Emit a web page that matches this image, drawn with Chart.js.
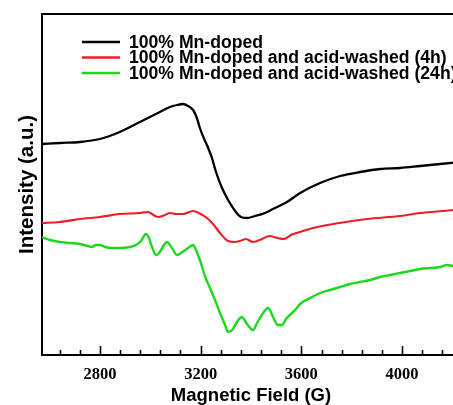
<!DOCTYPE html>
<html>
<head>
<meta charset="utf-8">
<script src="https://cdn.jsdelivr.net/npm/chart.js@4/dist/chart.umd.min.js"></script>
<style>
  html, body { margin: 0; padding: 0; overflow: hidden; background: #fff; }
  #wrap { width: 460px; height: 405px; }
</style>
</head>
<body>
<div id="wrap"><canvas id="epr" width="460" height="405"></canvas></div>
<script>
(function() {
    'use strict';

    // Magnetic field (G) and intensity (a.u.)
    const fieldBlack = [2570, 2641, 2721, 2800, 2879, 2959, 3038, 3078, 3106, 3130, 3150, 3170, 3185, 3197, 3209,
        3225, 3245, 3261, 3285, 3309, 3340, 3360, 3384, 3416, 3456, 3495, 3543, 3595, 3674, 3754, 3833,
        3913, 3992, 4072, 4151, 4231];
    const intBlack = [211, 212, 213, 216, 223, 233, 243, 248, 250, 251, 249, 245, 237, 227, 219,
        210, 197, 183, 167, 155, 143, 138, 137, 139, 142, 147, 153, 162, 172, 179, 183,
        186, 187, 189, 191, 193];

    const fieldRed = [2570, 2641, 2721, 2800, 2879, 2959, 2991, 3019, 3034, 3058, 3078, 3102, 3130, 3170, 3193,
        3225, 3249, 3277, 3309, 3336, 3356, 3380, 3408, 3444, 3472, 3507, 3527, 3567, 3595, 3646, 3726,
        3861, 3992, 4072, 4203, 4231];
    const intRed = [132, 133, 136, 138, 141, 142, 143, 139, 138, 140, 142, 141, 141, 144, 142,
        137, 131, 122, 114, 113, 114, 116, 113, 116, 119, 117, 116, 121, 123, 127, 131,
        136, 139, 142, 145, 146];

    const fieldGreen = [2570, 2602, 2641, 2681, 2721, 2752, 2768, 2784, 2800, 2820, 2848, 2879, 2919, 2943, 2963,
        2983, 2995, 3007, 3023, 3038, 3054, 3066, 3086, 3106, 3122, 3150, 3170, 3185, 3201, 3217, 3237,
        3257, 3277, 3297, 3309, 3329, 3344, 3364, 3384, 3408, 3424, 3448, 3468, 3488, 3507, 3523, 3539,
        3575, 3595, 3635, 3674, 3714, 3754, 3793, 3833, 3873, 3913, 3952, 3992, 4032, 4072, 4112, 4151,
        4179, 4203, 4231];
    const intGreen = [118, 115, 113, 112, 111, 109, 108, 110, 110, 108, 107, 107, 108, 110, 114,
        121, 117, 108, 100, 103, 110, 113, 107, 100, 102, 107, 110, 103, 92, 79, 67,
        55, 42, 30, 23, 26, 33, 38, 31, 25, 32, 42, 47, 38, 30, 30, 36,
        45, 51, 57, 62, 65, 68, 71, 73, 75, 78, 80, 82, 84, 86, 87, 88,
        90, 89, 91];

    const seriesLabels = [
        '100% Mn-doped',
        '100% Mn-doped and acid-washed (4h)',
        '100% Mn-doped and acid-washed (24h)'
    ];
    const seriesColors = ['#000000', '#ee1c24', '#1ed81e'];

    const tickLabels = [2800, 3200, 3600, 4000];
    const minorStep = 80;

    const sansFont = "'Liberation Sans', Arial, Helvetica, sans-serif";
    const serifFont = "'Liberation Serif', 'Times New Roman', serif";

    function toPoints(xs, ys) {
        return xs.map((x, i) => ({ x: x, y: ys[i] }));
    }

    // Frame top line and inward tick marks on the bottom axis
    const framePlugin = {
        id: 'frameTicks',
        afterDraw(chart) {
            const ctx = chart.ctx;
            const area = chart.chartArea;
            const xs = chart.scales.x;
            ctx.save();
            ctx.strokeStyle = '#000';
            ctx.lineWidth = 2;
            ctx.beginPath();
            ctx.moveTo(area.left - 1, area.top);
            ctx.lineTo(area.right, area.top);
            ctx.lineTo(area.right, area.bottom);
            ctx.stroke();

            ctx.lineWidth = 1.6;
            ctx.beginPath();
            for (let v = tickLabels[0] - 2 * minorStep; v < xs.max; v += minorStep) {
                const px = Math.round(xs.getPixelForValue(v)) + 0.5;
                const len = tickLabels.includes(v) ? 9 : 5;
                ctx.moveTo(px, area.bottom);
                ctx.lineTo(px, area.bottom - len);
            }
            ctx.stroke();
            ctx.restore();
        }
    };

    // Legend drawn inside the plot, top left
    const insideLegend = {
        id: 'insideLegend',
        afterDraw(chart) {
            const ctx = chart.ctx;
            const area = chart.chartArea;
            ctx.save();
            ctx.font = 'bold 17.6px ' + sansFont;
            ctx.textBaseline = 'middle';
            chart.data.datasets.forEach((ds, i) => {
                const y = area.top + 28 + i * 15.5;
                ctx.strokeStyle = ds.borderColor;
                ctx.lineWidth = 2.5;
                ctx.beginPath();
                ctx.moveTo(area.left + 40, y);
                ctx.lineTo(area.left + 78, y);
                ctx.stroke();
                ctx.fillStyle = '#000';
                ctx.fillText(ds.label, area.left + 87, y + 1);
            });
            ctx.restore();
        }
    };

    const datasets = [
        { data: toPoints(fieldBlack, intBlack), width: 2.3 },
        { data: toPoints(fieldRed, intRed), width: 2.1 },
        { data: toPoints(fieldGreen, intGreen), width: 2.4 }
    ].map((s, i) => ({
        label: seriesLabels[i],
        data: s.data,
        borderColor: seriesColors[i],
        borderWidth: s.width,
        pointRadius: 0,
        fill: false,
        cubicInterpolationMode: 'monotone'
    }));

    new Chart(document.getElementById('epr'), {
        type: 'line',
        data: { datasets: datasets },
        plugins: [framePlugin, insideLegend],
        options: {
            responsive: false,
            animation: false,
            layout: { padding: { top: 14, left: 0, right: 0, bottom: 0 } },
            plugins: {
                legend: { display: false },
                tooltip: { enabled: false }
            },
            scales: {
                x: {
                    type: 'linear',
                    min: 2570,
                    max: 4230,
                    afterBuildTicks: scale => {
                        scale.ticks = tickLabels.map(v => ({ value: v }));
                    },
                    grid: {
                        display: true,
                        drawOnChartArea: false,
                        drawTicks: true,
                        tickLength: 11.5,
                        tickColor: 'rgba(0,0,0,0)'
                    },
                    border: { display: true, color: '#000', width: 2 },
                    ticks: {
                        color: '#000',
                        padding: 0,
                        autoSkip: false,
                        maxRotation: 0,
                        callback: v => String(v),
                        font: { family: serifFont, weight: 'bold', size: 16.5, lineHeight: 1 }
                    },
                    title: {
                        display: true,
                        text: 'Magnetic Field (G)',
                        color: '#000',
                        font: { family: sansFont, weight: 'bold', size: 18.5, lineHeight: 1 },
                        padding: { top: 3.5, bottom: 0 }
                    }
                },
                y: {
                    min: 0,
                    max: 341,
                    grid: { display: false, drawTicks: false },
                    border: { display: true, color: '#000', width: 2 },
                    ticks: { display: false },
                    title: {
                        display: true,
                        text: 'Intensity (a.u.)',
                        color: '#000',
                        font: { family: sansFont, weight: 'bold', size: 20.5, lineHeight: 1 },
                        padding: { top: 16.75, bottom: 4.75 }
                    }
                }
            }
        }
    });
})();
</script>
</body>
</html>
